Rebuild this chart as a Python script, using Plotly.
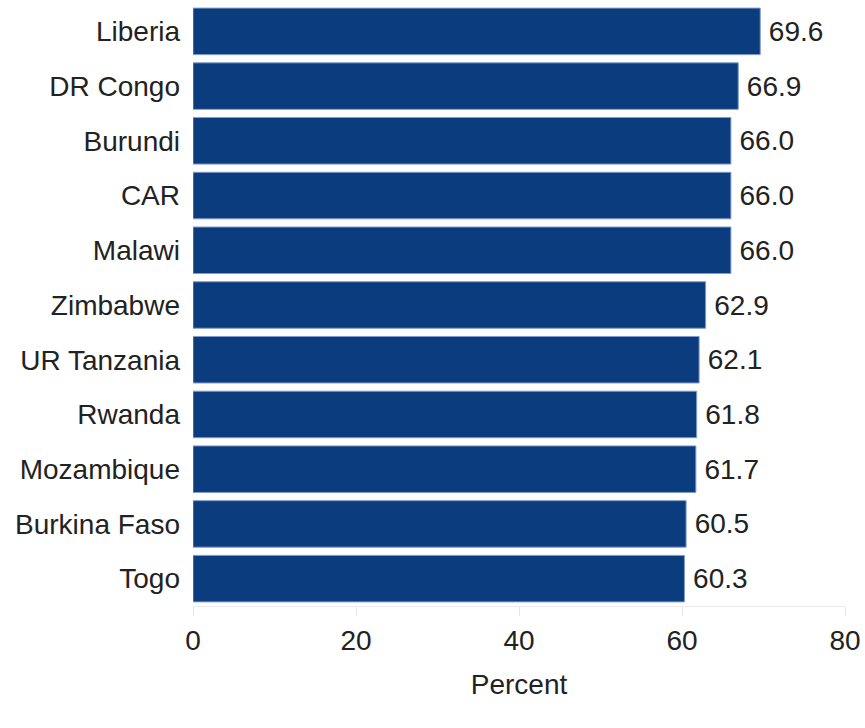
import plotly.graph_objects as go

countries = ["Liberia", "DR Congo", "Burundi", "CAR", "Malawi", "Zimbabwe",
             "UR Tanzania", "Rwanda", "Mozambique", "Burkina Faso", "Togo"]
values = [69.6, 66.9, 66.0, 66.0, 66.0, 62.9, 62.1, 61.8, 61.7, 60.5, 60.3]
x_ticks = [0, 20, 40, 60, 80]

FONT = "Liberation Sans, Arial, sans-serif"

fig = go.Figure(go.Bar(
    x=values, y=countries, orientation="h",
    marker=dict(color="#0b3c7e", line=dict(color="#7f9ccc", width=1)),
    texttemplate="\u2009%{x:.1f}",
    textposition="outside", cliponaxis=False,
    textfont=dict(family=FONT, size=28, color="#222222"),
))

fig.update_layout(
    width=865, height=728,
    margin=dict(l=193, r=16, t=4, b=122),
    paper_bgcolor="white", plot_bgcolor="white",
    bargap=0.15, showlegend=False,
    font=dict(family=FONT, size=28, color="#222222"),
)
fig.update_xaxes(
    range=[0, 80], tickvals=x_ticks, ticktext=[str(t) for t in x_ticks],
    showgrid=False, zeroline=False,
    showline=True, linecolor="#ececec", linewidth=1,
    ticks="outside", ticklen=9, tickcolor="#e6e6e6",
    ticklabelstandoff=0,
    title=dict(text="Percent", standoff=19, font=dict(size=28)),
    tickfont=dict(size=28),
)
fig.update_yaxes(
    autorange="reversed", showgrid=False, zeroline=False,
    showline=False, ticks="", ticklabelstandoff=12,
    tickfont=dict(size=28),
)

fig.write_html("out.html")
